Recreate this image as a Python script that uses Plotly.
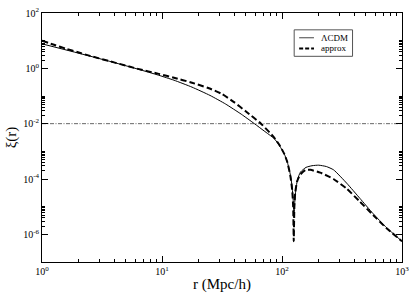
import plotly.graph_objects as go

# ---- data ----
r_lcdm = [1, 1.585, 2.512, 3.981, 6.31, 9.4, 12.59, 17.78, 25.12, 33.88, 45.7, 58.9, 70.8,
          86.1, 95.5, 104.7, 110.9, 117.5, 121.6, 124.5, 125.9, 127.4, 130.3, 134.9, 142.6,
          158.5, 177.8, 202.3, 234.4, 269.2, 345.9, 445.6, 574.1, 739.6, 1000]
xi_lcdm = [7.67, 4.62, 2.76, 1.626, 0.935, 0.562, 0.372, 0.209, 0.105, 0.0513, 0.0221, 0.01,
           0.0055, 0.00288, 0.00158, 7.9e-4, 4.0e-4, 1.41e-4, 5.0e-5, 1.26e-5, 4.0e-6,
           1.26e-5, 4.0e-5, 1.0e-4, 1.78e-4, 2.63e-4, 3.02e-4, 3.16e-4, 2.82e-4, 2.14e-4,
           7.08e-5, 2.0e-5, 5.62e-6, 1.78e-6, 5.62e-7]

r_approx = [1, 1.259, 1.585, 1.995, 2.512, 3.981, 6.31, 9.4, 12.59, 17.78, 24.27, 31.62,
            39.81, 50.12, 66.83, 86.1, 95.5, 104.7, 110.9, 117.5, 121.6, 123.9, 125.3, 126.8,
            128.8, 133.4, 141.3, 157.0, 172.6, 208.4, 268.5, 345.9, 445.6, 574.1, 739.6, 1000]
xi_approx = [10.0, 7.08, 5.13, 3.80, 2.82, 1.64, 0.955, 0.631, 0.457, 0.302, 0.195, 0.118,
             0.060, 0.0275, 0.01, 0.00316, 0.00166, 7.9e-4, 4.0e-4, 1.26e-4, 4.0e-5, 1.0e-5,
             5.6e-7, 1.0e-5, 3.16e-5, 7.9e-5, 1.41e-4, 2.14e-4, 2.14e-4, 1.70e-4, 1.0e-4,
             4.47e-5, 1.51e-5, 5.0e-6, 1.70e-6, 5.62e-7]

ref_r = [1, 1000]
ref_xi = [0.01, 0.01]

series_names = ["\u039bCDM", "approx"]

x_major = [1, 10, 100, 1000]
x_major_text = ["10<sup>0</sup>", "10<sup>1</sup>", "10<sup>2</sup>", "10<sup>3</sup>"]
y_major = [1e-6, 1e-4, 1e-2, 1, 1e2]
y_major_text = ["10<sup>-6</sup>", "10<sup>-4</sup>", "10<sup>-2</sup>", "10<sup>0</sup>", "10<sup>2</sup>"]

x_minor = [k * 10 ** e for e in (0, 1, 2) for k in range(2, 10)]
y_minor = [k * 10.0 ** e for e in (-6, -4, -2, 0) for k in range(2, 11)]

FONT = "Liberation Serif"

fig = go.Figure()
fig.add_trace(go.Scatter(x=ref_r, y=ref_xi, mode="lines", showlegend=False,
                         line=dict(color="#666666", width=1, dash="4px,1.5px,1px,1.5px")))
fig.add_trace(go.Scatter(x=r_lcdm, y=xi_lcdm, mode="lines", name=series_names[0], showlegend=False,
                         line=dict(color="black", width=1, shape="spline", smoothing=0.5)))
fig.add_trace(go.Scatter(x=r_approx, y=xi_approx, mode="lines", name=series_names[1], showlegend=False,
                         line=dict(color="black", width=2, dash="6px,3px", shape="spline", smoothing=0.5)))

axis_common = dict(
    showgrid=False, zeroline=False, showline=True, linecolor="black", linewidth=1,
    mirror="allticks", ticks="inside", ticklen=6, tickcolor="black",
    tickfont=dict(family=FONT, size=10, color="black"),
)

fig.update_xaxes(type="log", range=[0, 3], tickmode="array", tickvals=x_major,
                 ticktext=x_major_text,
                 minor=dict(tickmode="array", tickvals=x_minor, ticks="inside", ticklen=3,
                            tickcolor="black"),
                 title=dict(text="r (Mpc/h)", font=dict(family=FONT, size=15, color="black"),
                            standoff=2),
                 **axis_common)
fig.update_yaxes(type="log", range=[-7, 2], tickmode="array", tickvals=y_major,
                 ticktext=y_major_text,
                 minor=dict(tickmode="array", tickvals=y_minor, ticks="inside", ticklen=3,
                            tickcolor="black"),
                 title=dict(text="\u03be(r)", font=dict(family=FONT, size=15, color="black"),
                            standoff=2),
                 **axis_common)

# hand-drawn compact legend box (as in the reference)
row_y = [0.9005, 0.8575]
fig.add_shape(type="rect", xref="paper", yref="paper", x0=0.7005, x1=0.8626, y0=0.826, y1=0.9324,
              line=dict(color="#555555", width=1), fillcolor="white", layer="above")
fig.add_shape(type="line", xref="paper", yref="paper", x0=0.7143, x1=0.7555, y0=row_y[0], y1=row_y[0],
              line=dict(color="#444444", width=1), layer="above")
fig.add_shape(type="line", xref="paper", yref="paper", x0=0.7143, x1=0.7555, y0=row_y[1], y1=row_y[1],
              line=dict(color="black", width=2, dash="4px,2px"), layer="above")
for name, yy in zip(series_names, row_y):
    fig.add_annotation(xref="paper", yref="paper", x=0.772, y=yy, text=name, showarrow=False,
                       xanchor="left", yanchor="middle", borderpad=0,
                       font=dict(family=FONT, size=9, color="black"))

fig.update_layout(
    width=415, height=298,
    margin=dict(l=42, r=9, t=6, b=36),
    paper_bgcolor="white", plot_bgcolor="white",
    font=dict(family=FONT, size=10, color="black"),
    showlegend=False,
)

fig.write_html("out.html", config={"displayModeBar": False},
               post_script="document.body.style.margin='0';document.body.style.padding='0';")
